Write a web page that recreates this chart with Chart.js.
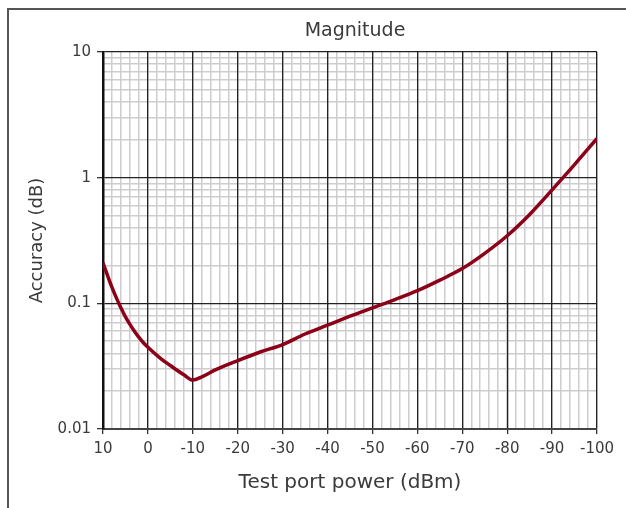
<!DOCTYPE html>
<html>
<head>
<meta charset="utf-8">
<script src="https://cdn.jsdelivr.net/npm/chart.js@4.4.1/dist/chart.umd.min.js"></script>
<style>
  html, body { margin: 0; padding: 0; background: #fff; }
  #wrap { width: 626px; height: 508px; position: relative; }
</style>
</head>
<body>
<div id="wrap"><canvas id="accChart"></canvas></div>
<script>
// Test port power (dBm) and magnitude accuracy (dB)
const powerDbm = [10, 9, 8, 7, 6, 5, 4, 3, 2, 1, 0, -3, -5, -8, -10, -12, -15, -20, -25, -30, -35, -40, -45, -50, -55, -60, -65, -70, -75, -80, -85, -90, -95, -100];
const accuracyDb = [0.21, 0.167, 0.134, 0.11, 0.092, 0.078, 0.068, 0.06, 0.0536, 0.0486, 0.0447, 0.036, 0.032, 0.027, 0.0245, 0.026, 0.0295, 0.035, 0.041, 0.047, 0.057, 0.067, 0.079, 0.092, 0.107, 0.126, 0.153, 0.189, 0.25, 0.345, 0.51, 0.8, 1.27, 2.05];

// axis ticks
const xMajorTicks = [10, 0, -10, -20, -30, -40, -50, -60, -70, -80, -90, -100];
const yMajorTicks = [0.01, 0.1, 1, 10];
const yMinorSteps = [2, 3, 4, 5, 6, 7, 8, 9];

const fontFamily = '"DejaVu Sans", sans-serif';
const textColor = '#3a3a3a';

// minor ticks for the log axis: 2..9 in each decade
const yMinorTicks = [];
yMajorTicks.slice(0, -1).forEach(d => {
    yMinorSteps.forEach(s => yMinorTicks.push(+(d * s).toPrecision(3)));
});

// left and top frame lines, plus the chart heading
const framePlugin = {
    id: 'frame',
    beforeDraw(chart) {
        const ctx = chart.ctx;
        ctx.save();
        ctx.fillStyle = '#fff';
        ctx.fillRect(0, 0, chart.width, chart.height);
        ctx.strokeStyle = '#555';
        ctx.lineWidth = 2;
        ctx.beginPath();
        ctx.moveTo(8, chart.height);
        ctx.lineTo(8, 9);
        ctx.lineTo(chart.width, 9);
        ctx.stroke();
        ctx.restore();
    },
    afterDraw(chart) {
        const ctx = chart.ctx;
        const area = chart.chartArea;
        ctx.save();
        ctx.fillStyle = textColor;
        ctx.font = '19px ' + fontFamily;
        ctx.textAlign = 'center';
        ctx.textBaseline = 'middle';
        ctx.fillText('Magnitude', (area.left + area.right) / 2 + 5, 31);
        ctx.restore();
    }
};

const ctx = document.getElementById('accChart').getContext('2d');
new Chart(ctx, {
    type: 'line',
    data: {
        datasets: [{
            label: 'Accuracy (dB)',
            data: powerDbm.map((p, i) => ({ x: p, y: accuracyDb[i] })),
            borderColor: '#8c0018',
            borderWidth: 3.5,
            pointRadius: 0,
            fill: false,
            cubicInterpolationMode: 'monotone'
        }]
    },
    options: {
        responsive: true,
        maintainAspectRatio: false,
        animation: false,
        layout: { padding: { top: 52, right: 29, left: 0, bottom: 0 } },
        plugins: {
            legend: { display: false },
            tooltip: { enabled: false }
        },
        scales: {
            xMinor: {
                type: 'linear',
                position: 'bottom',
                reverse: true,
                min: -100,
                max: 10,
                ticks: { display: false, stepSize: 2, autoSkip: false },
                grid: { color: '#cdcdcf', lineWidth: 1.5, drawTicks: false, z: -2 },
                border: { display: false },
                afterFit(scale) { scale.height = 0; }
            },
            yMinor: {
                type: 'logarithmic',
                position: 'left',
                min: 0.01,
                max: 10,
                afterBuildTicks(scale) { scale.ticks = yMinorTicks.map(v => ({ value: v })); },
                ticks: { display: false, autoSkip: false },
                grid: { color: '#cdcdcf', lineWidth: 1.5, drawTicks: false, z: -2 },
                border: { display: false },
                afterFit(scale) { scale.width = 0; }
            },
            x: {
                type: 'linear',
                position: 'bottom',
                reverse: true,
                min: -100,
                max: 10,
                afterBuildTicks(scale) { scale.ticks = xMajorTicks.map(v => ({ value: v })); },
                ticks: {
                    autoSkip: false,
                    maxRotation: 0,
                    padding: 6,
                    color: textColor,
                    font: { family: fontFamily, size: 15 },
                    callback: v => String(v)
                },
                grid: { color: '#222', lineWidth: 1.3, tickLength: 5, tickColor: '#333', z: -1 },
                border: { color: '#444', width: 2 },
                title: {
                    display: true,
                    text: 'Test port power (dBm)',
                    color: textColor,
                    font: { family: fontFamily, size: 20 },
                    padding: { top: 0, bottom: 13 }
                },
                afterFit(scale) { scale.height = 79; }
            },
            y: {
                type: 'logarithmic',
                position: 'left',
                min: 0.01,
                max: 10,
                afterBuildTicks(scale) { scale.ticks = yMajorTicks.map(v => ({ value: v })); },
                ticks: {
                    autoSkip: false,
                    padding: 6,
                    color: textColor,
                    font: { family: fontFamily, size: 15 },
                    callback: v => String(v)
                },
                grid: { color: '#222', lineWidth: 1.3, tickLength: 6, tickColor: '#333', z: -1 },
                border: { color: '#111', width: 2.5 },
                title: {
                    display: true,
                    text: 'Accuracy (dB)',
                    color: textColor,
                    font: { family: fontFamily, size: 18 },
                    padding: { top: 27, bottom: 0 }
                },
                afterFit(scale) { scale.width = 103; }
            }
        }
    },
    plugins: [framePlugin]
});
</script>
</body>
</html>
